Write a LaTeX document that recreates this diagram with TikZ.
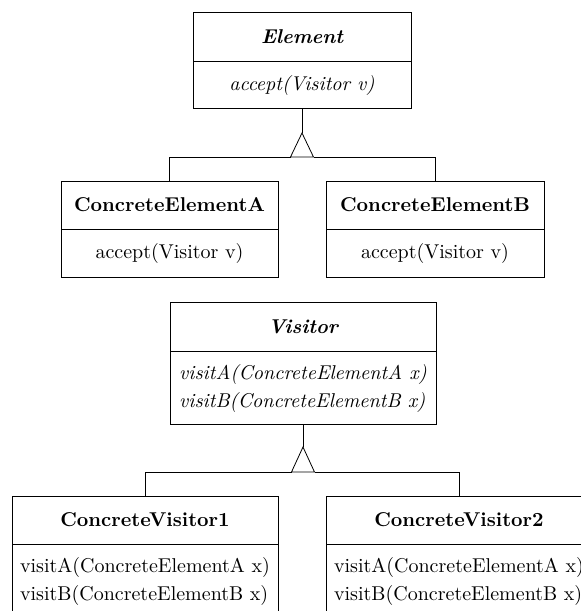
\documentclass[tikz,border=0pt]{standalone}
\usetikzlibrary{positioning}

\tikzset{
    classhead/.style={draw, rectangle, inner sep=0pt, font=\bfseries},
    classbody/.style={draw, rectangle, inner sep=0pt, align=left, anchor=north},
}

\begin{document}
\begin{tikzpicture}[x=0.5pt, y=-0.5pt]
        \useasboundingbox (0,0) rectangle (581,611);
        \clip (0,0) rectangle (581,611);

        % element hierarchy
        \node[classhead, minimum width=109pt, minimum height=24.5pt] (element) at (302,36.5) {\itshape Element};
        \node[classbody, minimum width=109pt, minimum height=23.5pt, font=\itshape] (elementbody) at (element.south) {accept(Visitor v)};

        \node[classhead, minimum width=108.5pt, minimum height=24pt] (cea) at (169.5,205) {ConcreteElementA};
        \node[classbody, minimum width=108.5pt, minimum height=24pt] (ceabody) at (cea.south) {accept(Visitor v)};

        \node[classhead, minimum width=109pt, minimum height=24pt] (ceb) at (435,205) {ConcreteElementB};
        \node[classbody, minimum width=109pt, minimum height=24pt] (cebbody) at (ceb.south) {accept(Visitor v)};

        \coordinate (etip) at (302,133);
        \coordinate (ebar) at (302,157);
        \draw (elementbody.south) -- (etip);
        \draw (etip) -- ++(-11.5,24) -- ++(23,0) -- cycle;
        \draw (cea.north) -- (cea.north |- ebar) -- ([xshift=-5.75pt]ebar);
        \draw ([xshift=5.75pt]ebar) -- (ceb.north |- ebar) -- (ceb.north);

        % visitor hierarchy
        \node[classhead, minimum width=133pt, minimum height=24.5pt] (visitor) at (303,326.5) {\itshape Visitor};
        \node[classbody, minimum width=133pt, minimum height=36.5pt, font=\itshape] (visitorbody) at (visitor.south) {visitA(ConcreteElementA x)\\[2pt]visitB(ConcreteElementB x)};

        \node[classhead, minimum width=133pt, minimum height=24pt] (cv1) at (145,520) {ConcreteVisitor1};
        \node[classbody, minimum width=133pt, minimum height=36.5pt] (cv1body) at (cv1.south) {visitA(ConcreteElementA x)\\[2pt]visitB(ConcreteElementB x)};

        \node[classhead, minimum width=133pt, minimum height=24pt] (cv2) at (459,520) {ConcreteVisitor2};
        \node[classbody, minimum width=133pt, minimum height=36.5pt] (cv2body) at (cv2.south) {visitA(ConcreteElementA x)\\[2pt]visitB(ConcreteElementB x)};

        \coordinate (vtip) at (303,447);
        \coordinate (vbar) at (303,472);
        \draw (visitorbody.south) -- (vtip);
        \draw (vtip) -- ++(-11.5,25) -- ++(23,0) -- cycle;
        \draw (cv1.north) -- (cv1.north |- vbar) -- ([xshift=-5.75pt]vbar);
        \draw ([xshift=5.75pt]vbar) -- (cv2.north |- vbar) -- (cv2.north);
    \end{tikzpicture}
\end{document}
